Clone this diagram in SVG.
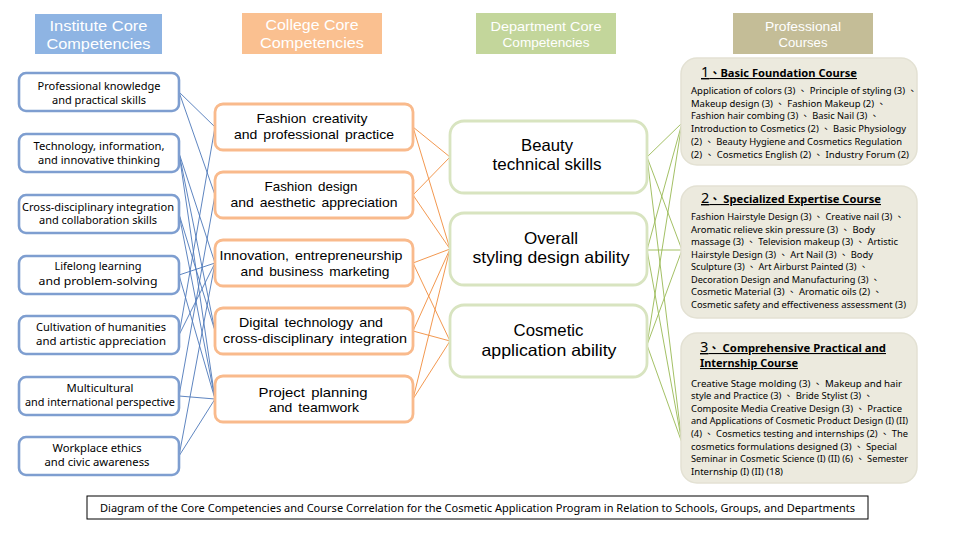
<svg xmlns="http://www.w3.org/2000/svg" width="960" height="540" viewBox="0 0 960 540">
<style>
text{font-family:"Noto Sans","Open Sans","Noto Sans CJK TC",sans-serif;fill:#000}
.hd{fill:#fff;font-size:15.5px;text-anchor:middle;font-family:"Liberation Sans",Arial,sans-serif}
.hs{fill:#fff;font-size:13px;text-anchor:middle;font-family:"Liberation Sans",Arial,sans-serif}
.ib{fill:#fff;stroke:#7E9ED0;stroke-width:2.6}
.cb{fill:#fff;stroke:#F9BA8C;stroke-width:2.8}
.db{fill:#fff;stroke:#D8E4C0;stroke-width:2.8}
.pb{fill:#ECEADE;stroke:#E3E1D3;stroke-width:1.5}
.it{font-size:11px;text-anchor:middle}
.ct{font-size:13.5px;text-anchor:middle;word-spacing:2px;font-family:"Liberation Sans",Arial,sans-serif}
.dt{font-size:16.5px;text-anchor:middle;font-family:"Liberation Sans",Arial,sans-serif}
.pt{font-size:10.8px;font-weight:bold;text-decoration:underline}
.pl{font-size:9.3px}
.bl{stroke:#4C77B9;stroke-width:0.9;fill:none}
.ol{stroke:#F08C3C;stroke-width:0.9;fill:none}
.gl{stroke:#98B954;stroke-width:0.9;fill:none}
</style>
<rect width="960" height="540" fill="#fff"/>

<g id="headers">
<rect x="35" y="14" width="127" height="40" fill="#8EB4E3"/>
<text class="hd" x="98.5" y="31" textLength="98" lengthAdjust="spacingAndGlyphs">Institute Core</text>
<text class="hd" x="98.5" y="49" textLength="104" lengthAdjust="spacingAndGlyphs">Competencies</text>
<rect x="242" y="13" width="140" height="41" fill="#FAC090"/>
<text class="hd" x="312" y="30" textLength="93" lengthAdjust="spacingAndGlyphs">College Core</text>
<text class="hd" x="312" y="48" textLength="104" lengthAdjust="spacingAndGlyphs">Competencies</text>
<rect x="476" y="13" width="140" height="41" fill="#C3D69B"/>
<text class="hs" x="546" y="31" textLength="111" lengthAdjust="spacingAndGlyphs">Department  Core</text>
<text class="hs" x="546" y="46.5" textLength="87" lengthAdjust="spacingAndGlyphs">Competencies</text>
<rect x="733" y="13" width="140" height="41" fill="#C4BD97"/>
<text class="hs" x="803" y="31" textLength="76" lengthAdjust="spacingAndGlyphs">Professional</text>
<text class="hs" x="803" y="46.5" textLength="49" lengthAdjust="spacingAndGlyphs">Courses</text>
</g>

<g id="connectors">
<path class="bl" d="M179,92L215,127M179,92L215,195M179,153L215,263M179,153L215,331M179,153L215,399M179,214L215,331M179,214L215,399M179,275L215,263M179,275L215,399M179,335L215,127M179,335L215,263M179,396L215,195M179,396L215,399M179,456L215,399M179,456L215,263"/>
<path class="ol" d="M413,127L450,157M413,127L450,249M413,195L450,157M413,195L450,249M413,263L450,249M413,263L450,341M413,331L450,249M413,331L450,341M413,399L450,249M413,399L450,341"/>
<path class="gl" d="M647,157L682,123M647,157L682,250M647,157L682,443M647,250L682,123M647,250L682,250M647,250L682,443M647,345L682,123M647,345L682,250M647,345L682,443"/>
</g>

<g id="inst1"><rect class="ib" x="19" y="73" width="160" height="38" rx="7"/>
<text class="it" x="99" y="89.5" textLength="123" lengthAdjust="spacingAndGlyphs">Professional knowledge</text>
<text class="it" x="99" y="103.5" textLength="94" lengthAdjust="spacingAndGlyphs">and practical skills</text></g>
<g id="inst2"><rect class="ib" x="19" y="134" width="160" height="38" rx="7"/>
<text class="it" x="99" y="149.5" textLength="131" lengthAdjust="spacingAndGlyphs">Technology, information,</text>
<text class="it" x="99" y="163.5" textLength="122" lengthAdjust="spacingAndGlyphs">and innovative thinking</text></g>
<g id="inst3"><rect class="ib" x="19" y="195" width="160" height="38" rx="7"/>
<text class="it" x="98" y="210.5" textLength="152" lengthAdjust="spacingAndGlyphs">Cross-disciplinary integration</text>
<text class="it" x="98" y="224" textLength="118" lengthAdjust="spacingAndGlyphs">and collaboration skills</text></g>
<g id="inst4"><rect class="ib" x="19" y="256" width="160" height="38" rx="7"/>
<text class="it" x="98" y="270" textLength="87" lengthAdjust="spacingAndGlyphs">Lifelong learning</text>
<text class="it" x="98" y="284.5" font-size="13" textLength="119" lengthAdjust="spacingAndGlyphs">and problem-solving</text></g>
<g id="inst5"><rect class="ib" x="19" y="316" width="160" height="38" rx="7"/>
<text class="it" x="101" y="331" textLength="130" lengthAdjust="spacingAndGlyphs">Cultivation of humanities</text>
<text class="it" x="101" y="345" font-size="11.5" textLength="130" lengthAdjust="spacingAndGlyphs">and artistic appreciation</text></g>
<g id="inst6"><rect class="ib" x="19" y="377" width="160" height="38" rx="7"/>
<text class="it" x="100" y="392" textLength="67" lengthAdjust="spacingAndGlyphs">Multicultural</text>
<text class="it" x="100" y="406" textLength="150" lengthAdjust="spacingAndGlyphs">and international perspective</text></g>
<g id="inst7"><rect class="ib" x="19" y="437" width="160" height="38" rx="7"/>
<text class="it" x="97" y="452" textLength="89" lengthAdjust="spacingAndGlyphs">Workplace ethics</text>
<text class="it" x="97" y="466" font-size="12" textLength="105" lengthAdjust="spacingAndGlyphs">and civic awareness</text></g>

<g id="col1"><rect class="cb" x="215" y="104" width="198" height="46" rx="8"/>
<text class="ct" x="312" y="123" textLength="111" lengthAdjust="spacingAndGlyphs">Fashion  creativity</text>
<text class="ct" x="314" y="139" textLength="160" lengthAdjust="spacingAndGlyphs">and  professional  practice</text></g>
<g id="col2"><rect class="cb" x="215" y="172" width="198" height="46" rx="8"/>
<text class="ct" x="311" y="191" textLength="93" lengthAdjust="spacingAndGlyphs">Fashion  design</text>
<text class="ct" x="314" y="207" textLength="167" lengthAdjust="spacingAndGlyphs">and  aesthetic  appreciation</text></g>
<g id="col3"><rect class="cb" x="215" y="240" width="198" height="46" rx="8"/>
<text class="ct" x="311" y="259.5" textLength="183" lengthAdjust="spacingAndGlyphs">Innovation,  entrepreneurship</text>
<text class="ct" x="315" y="276" textLength="149" lengthAdjust="spacingAndGlyphs">and  business  marketing</text></g>
<g id="col4"><rect class="cb" x="215" y="308" width="198" height="46" rx="8"/>
<text class="ct" x="311" y="326.5" textLength="144" lengthAdjust="spacingAndGlyphs">Digital  technology  and</text>
<text class="ct" x="315" y="343" textLength="184" lengthAdjust="spacingAndGlyphs">cross-disciplinary  integration</text></g>
<g id="col5"><rect class="cb" x="215" y="376" width="198" height="46" rx="8"/>
<text class="ct" x="313" y="396.5" textLength="109" lengthAdjust="spacingAndGlyphs">Project  planning</text>
<text class="ct" x="314" y="411.5" textLength="90" lengthAdjust="spacingAndGlyphs">and  teamwork</text></g>

<g id="dep1"><rect class="db" x="450" y="121" width="197" height="72" rx="14"/>
<text class="dt" x="547" y="151" textLength="52" lengthAdjust="spacingAndGlyphs">Beauty</text>
<text class="dt" x="547" y="170" textLength="109" lengthAdjust="spacingAndGlyphs">technical skills</text></g>
<g id="dep2"><rect class="db" x="450" y="213" width="197" height="72" rx="14"/>
<text class="dt" x="551" y="243.5" textLength="54" lengthAdjust="spacingAndGlyphs">Overall</text>
<text class="dt" x="551" y="263" textLength="157" lengthAdjust="spacingAndGlyphs">styling design ability</text></g>
<g id="dep3"><rect class="db" x="450" y="305" width="197" height="72" rx="14"/>
<text class="dt" x="548.5" y="336" textLength="70" lengthAdjust="spacingAndGlyphs">Cosmetic</text>
<text class="dt" x="549" y="355.5" textLength="135" lengthAdjust="spacingAndGlyphs">application ability</text></g>

<g id="course1"><rect class="pb" x="681" y="58" width="236" height="107" rx="16"/>
<text class="pt" x="701" y="77" textLength="156" lengthAdjust="spacingAndGlyphs"><tspan font-size="14" font-weight="normal">1</tspan>、Basic Foundation Course</text>
<text class="pl" x="691" y="94" textLength="226" lengthAdjust="spacingAndGlyphs">Application of colors (3)  、 Principle of styling (3)  、</text>
<text class="pl" x="691" y="106.5" textLength="195" lengthAdjust="spacingAndGlyphs">Makeup design (3)  、 Fashion Makeup (2)  、</text>
<text class="pl" x="691" y="119" textLength="188" lengthAdjust="spacingAndGlyphs">Fashion hair combing (3) 、 Basic Nail (3) 、</text>
<text class="pl" x="691" y="132" textLength="215" lengthAdjust="spacingAndGlyphs">Introduction to Cosmetics (2) 、 Basic Physiology</text>
<text class="pl" x="691" y="144.5" textLength="211" lengthAdjust="spacingAndGlyphs">(2)  、 Beauty Hygiene and Cosmetics Regulation</text>
<text class="pl" x="691" y="157.5" textLength="218" lengthAdjust="spacingAndGlyphs">(2)  、 Cosmetics English (2) 、 Industry Forum (2)</text>
</g>

<g id="course2"><rect class="pb" x="681" y="186" width="236" height="132" rx="16"/>
<text class="pt" x="701" y="203" textLength="180" lengthAdjust="spacingAndGlyphs"><tspan font-size="14" font-weight="normal">2</tspan>、 Specialized  Expertise Course</text>
<text class="pl" x="691" y="220" textLength="213" lengthAdjust="spacingAndGlyphs">Fashion Hairstyle Design (3) 、 Creative nail (3) 、</text>
<text class="pl" x="691" y="232.5" textLength="184" lengthAdjust="spacingAndGlyphs">Aromatic relieve skin pressure (3) 、 Body</text>
<text class="pl" x="691" y="245" textLength="207" lengthAdjust="spacingAndGlyphs">massage (3) 、 Television makeup (3) 、 Artistic</text>
<text class="pl" x="691" y="257.5" textLength="182" lengthAdjust="spacingAndGlyphs">Hairstyle Design (3) 、 Art Nail (3) 、 Body</text>
<text class="pl" x="691" y="270" textLength="177" lengthAdjust="spacingAndGlyphs">Sculpture (3) 、 Art Airburst Painted (3) 、</text>
<text class="pl" x="691" y="282.5" textLength="189" lengthAdjust="spacingAndGlyphs">Decoration Design and Manufacturing (3) 、</text>
<text class="pl" x="691" y="295" textLength="191" lengthAdjust="spacingAndGlyphs">Cosmetic Material (3) 、 Aromatic oils (2) 、</text>
<text class="pl" x="691" y="308" textLength="215" lengthAdjust="spacingAndGlyphs">Cosmetic safety and effectiveness assessment (3)</text>
</g>

<g id="course3"><rect class="pb" x="681" y="333" width="236" height="150" rx="16"/>
<text class="pt" x="700" y="352" textLength="186" lengthAdjust="spacingAndGlyphs"><tspan font-size="14" font-weight="normal">3</tspan>、 Comprehensive Practical  and</text>
<text class="pt" x="700" y="367" textLength="98" lengthAdjust="spacingAndGlyphs">Internship Course</text>
<text class="pl" x="691" y="386.5" textLength="211" lengthAdjust="spacingAndGlyphs">Creative Stage molding (3) 、 Makeup and hair</text>
<text class="pl" x="691" y="399" textLength="182" lengthAdjust="spacingAndGlyphs">style and Practice (3) 、 Bride Stylist (3) 、</text>
<text class="pl" x="691" y="411.5" textLength="211" lengthAdjust="spacingAndGlyphs">Composite Media Creative Design (3) 、 Practice</text>
<text class="pl" x="691" y="424" textLength="217" lengthAdjust="spacingAndGlyphs">and Applications of Cosmetic Product Design (I) (II)</text>
<text class="pl" x="691" y="436.5" textLength="217" lengthAdjust="spacingAndGlyphs">(4) 、 Cosmetics testing and internships (2) 、 The</text>
<text class="pl" x="691" y="449.5" textLength="206" lengthAdjust="spacingAndGlyphs">cosmetics formulations designed (3) 、 Special</text>
<text class="pl" x="691" y="462" textLength="217" lengthAdjust="spacingAndGlyphs">Seminar in Cosmetic Science (I) (II) (6) 、 Semester</text>
<text class="pl" x="691" y="474.5" textLength="92" lengthAdjust="spacingAndGlyphs">Internship (I) (II) (18)</text>
</g>

<g id="caption"><rect x="87" y="496" width="781" height="23" fill="#fff" stroke="#000" stroke-width="1"/>
<text x="477.5" y="511.5" font-size="10.5" text-anchor="middle" textLength="755" lengthAdjust="spacingAndGlyphs">Diagram of the Core Competencies and Course Correlation for the Cosmetic Application Program in Relation to Schools, Groups, and Departments</text></g>
</svg>
